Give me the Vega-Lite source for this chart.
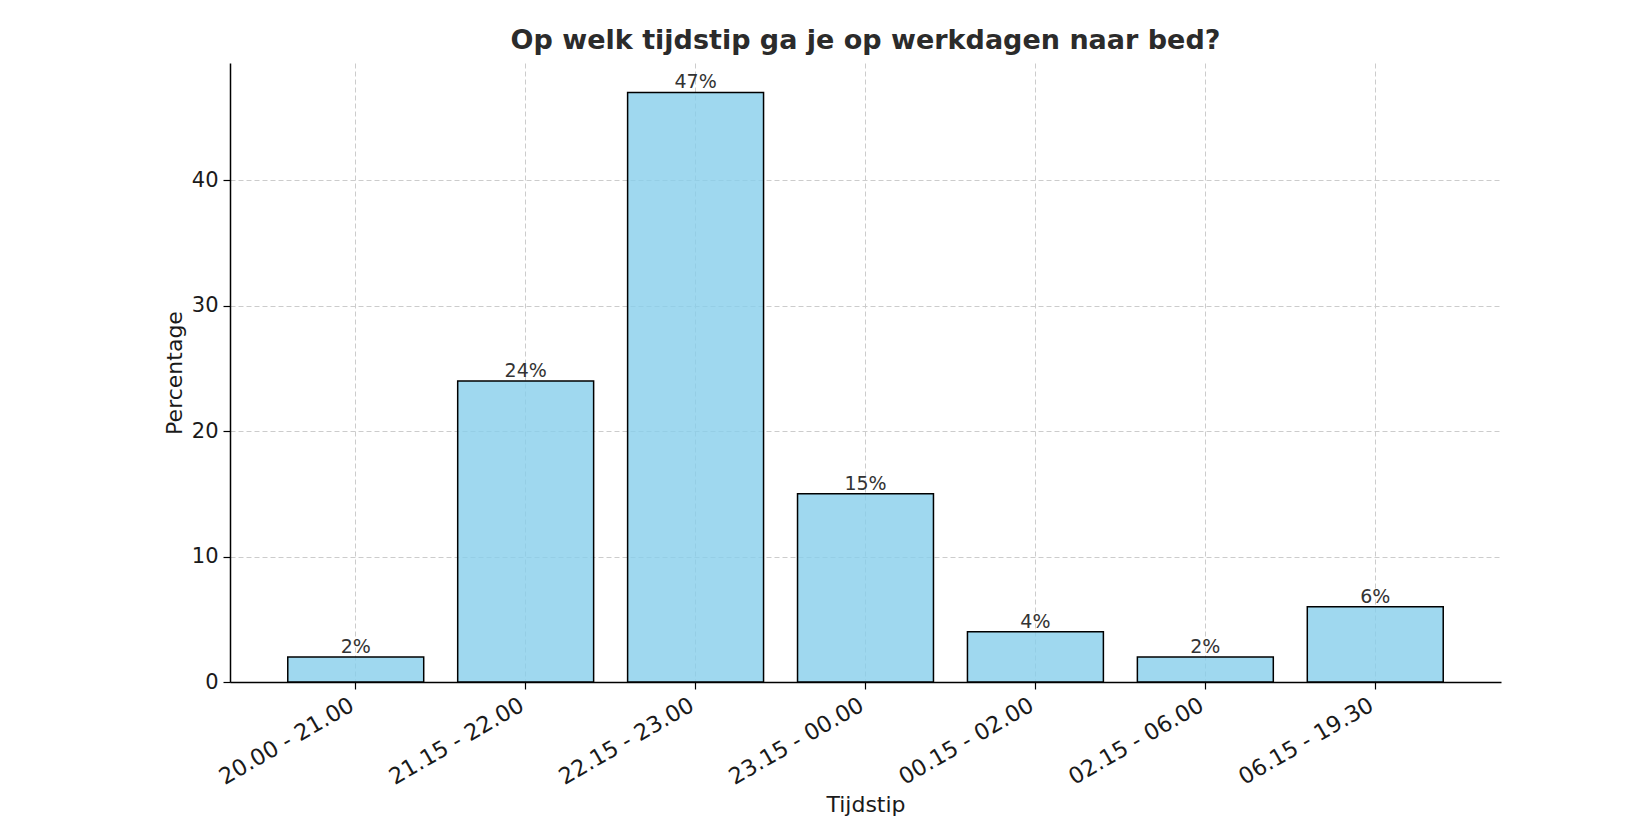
{
  "$schema": "https://vega.github.io/schema/vega-lite/v6.json",
  "autosize": {"type": "none"},
  "width": 1271,
  "height": 619,
  "padding": {"left": 230, "top": 63, "right": 139, "bottom": 158},
  "background": "white",
  "title": {
    "text": "Op welk tijdstip ga je op werkdagen naar bed?",
    "font": "DejaVu Sans",
    "fontSize": 27,
    "fontWeight": "bold",
    "color": "#2b2b2b",
    "anchor": "middle",
    "offset": 8
  },
  "data": {
    "values": [
      {"tijdstip": "20.00 - 21.00", "pct": 2, "label": "2%"},
      {"tijdstip": "21.15 - 22.00", "pct": 24, "label": "24%"},
      {"tijdstip": "22.15 - 23.00", "pct": 47, "label": "47%"},
      {"tijdstip": "23.15 - 00.00", "pct": 15, "label": "15%"},
      {"tijdstip": "00.15 - 02.00", "pct": 4, "label": "4%"},
      {"tijdstip": "02.15 - 06.00", "pct": 2, "label": "2%"},
      {"tijdstip": "06.15 - 19.30", "pct": 6, "label": "6%"}
    ]
  },
  "config": {
    "view": {"stroke": null},
    "font": "DejaVu Sans",
    "axis": {
      "domainColor": "#000000",
      "domainWidth": 1.5,
      "tickColor": "#000000",
      "tickWidth": 1.2,
      "tickSize": 7,
      "labelFont": "DejaVu Sans",
      "labelColor": "#1a1a1a",
      "titleFont": "DejaVu Sans",
      "titleFontSize": 22,
      "titleFontWeight": "normal",
      "titleColor": "#1a1a1a",
      "gridColor": "#cccccc",
      "gridDash": [5, 3],
      "gridWidth": 1
    }
  },
  "encoding": {
    "x": {
      "field": "tijdstip",
      "type": "nominal",
      "sort": null,
      "title": "Tijdstip",
      "scale": {"paddingInner": 0.2, "paddingOuter": 0.34},
      "axis": {
        "labelAngle": -30,
        "labelAlign": "right",
        "labelBaseline": "alphabetic",
        "labelFontSize": 22.5,
        "labelPadding": 20,
        "labelDx": -5,
        "grid": true,
        "bandPosition": 0.5,
        "titlePadding": 6
      }
    },
    "y": {
      "field": "pct",
      "type": "quantitative",
      "title": "Percentage",
      "scale": {"domain": [0, 49.35], "nice": false},
      "axis": {
        "values": [0, 10, 20, 30, 40],
        "grid": true,
        "labelFontSize": 21,
        "labelPadding": 5,
        "titlePadding": 5
      }
    }
  },
  "layer": [
    {
      "mark": {
        "type": "bar",
        "fill": "#87ceeb",
        "fillOpacity": 0.8,
        "stroke": "#000000",
        "strokeWidth": 1.5
      }
    },
    {
      "mark": {
        "type": "text",
        "baseline": "alphabetic",
        "dy": -4,
        "fontSize": 19,
        "color": "#333333",
        "font": "DejaVu Sans"
      },
      "encoding": {
        "text": {"field": "label", "type": "nominal"}
      }
    }
  ]
}
